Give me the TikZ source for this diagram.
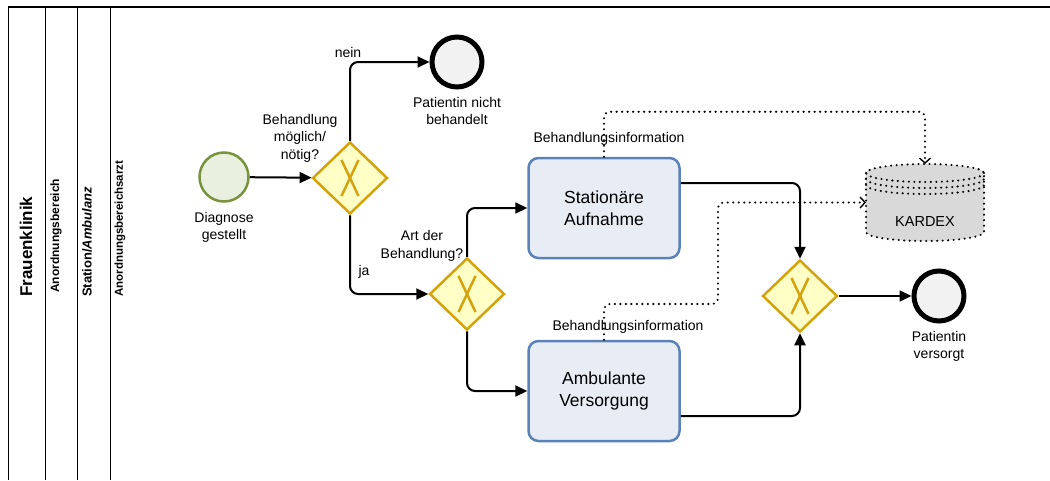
\documentclass[tikz,border=0pt]{standalone}
\usepackage{fontspec}
\setmainfont{Liberation Sans}
\usetikzlibrary{positioning,shapes.geometric,arrows.meta}
\definecolor{evgreen}{HTML}{77933C}
\definecolor{evgreenfill}{HTML}{E9F0DF}
\definecolor{gwgold}{HTML}{D4A20C}
\definecolor{gwfill}{HTML}{FFFFC6}
\definecolor{taskblue}{HTML}{5B82B8}
\definecolor{taskfill}{HTML}{E8EDF5}
\definecolor{endfill}{HTML}{F2F2F2}
\definecolor{storefill}{HTML}{D9D9D9}

\begin{document}
\begin{tikzpicture}[x=1pt,y=-1pt,
		every node/.style={font=\fontsize{14}{17.5}\selectfont},
		startev/.style={circle,draw=evgreen,fill=evgreenfill,line width=2.5pt,minimum size=49pt,inner sep=0pt},
		endev/.style={circle,draw=black,fill=endfill,line width=5pt,minimum size=50pt,inner sep=0pt},
		gateway/.style={diamond,draw=gwgold,fill=gwfill,line width=2.5pt,minimum width=75pt,minimum height=72pt,inner sep=0pt,
			path picture={
				\draw[gwgold,line width=2.5pt] ([shift={(-8.5pt,18pt)}]path picture bounding box.center) -- ([shift={(8.5pt,-18pt)}]path picture bounding box.center);
				\draw[gwgold,line width=2.5pt] ([shift={(8.5pt,18pt)}]path picture bounding box.center) -- ([shift={(-8.5pt,-18pt)}]path picture bounding box.center);}},
		task/.style={rectangle,rounded corners=10pt,draw=taskblue,fill=taskfill,line width=2.5pt,minimum width=151pt,minimum height=100pt,align=center,font=\fontsize{17.5}{22}\selectfont},
		flow/.style={line width=2pt,rounded corners=8pt,-{Triangle[length=12pt,width=11pt]}},
		assoc/.style={line width=2.3pt,line cap=round,dash pattern=on 0pt off 5.5pt,rounded corners=6pt,-{Straight Barb[length=5pt,width=11pt,line width=1.4pt]}},
		storeline/.style={line width=2.3pt,line cap=round,dash pattern=on 0pt off 5.5pt},
		lanelbl/.style={rotate=90,anchor=west,inner sep=0pt}
	]
	\useasboundingbox (0,0) rectangle (1050,480);
	% pool and lanes
	\draw[line width=2pt] (8,7) -- (1050,7);
	\draw[line width=1pt] (8,7) -- (8,480);
	\draw[line width=1pt] (45,7) -- (45,480);
	\draw[line width=1pt] (77,7) -- (77,480);
	\draw[line width=1pt] (110,7) -- (110,480);
	\node[lanelbl,font=\bfseries\fontsize{17}{20}\selectfont] (poolname) at (26,297) {Frauenklinik};
	\node[lanelbl,font=\bfseries\fontsize{12}{14}\selectfont] (lanebereich) at (56,293) {Anordnungsbereich};
	\node[lanelbl,font=\bfseries\fontsize{13}{15}\selectfont] (lanestation) at (87,297) {Station/\textit{Ambulanz}};
	\node[lanelbl,font=\bfseries\fontsize{11.5}{14}\selectfont] (lanearzt) at (120,297) {Anordnungsbereichsarzt};

	% events, gateways, tasks
	\node[startev] (diag) at (224,177) {};
	\node[below=6pt of diag,align=center] (diaglbl) {Diagnose\\gestellt};
	\node[gateway] (gw1) at (350,178) {};
	\node[align=center] (gw1lbl) at (300,138) {Behandlung\\möglich/\\nötig?};
	\node[endev] (endnb) at (457,62) {};
	\node[below=4pt of endnb,align=center] (endnblbl) {Patientin nicht\\behandelt};
	\node[gateway] (gw2) at (467,294) {};
	\node[align=center] (gw2lbl) at (422,246) {Art der\\Behandlung?};
	\node[task] (stat) at (604,208) {Stationäre\\Aufnahme};
	\node[task] (amb) at (604,391) {Ambulante\\Versorgung};
	\node[gateway] (gw3) at (800,296) {};
	\node[endev] (endvs) at (939,296) {};
	\node[below=4pt of endvs,align=center] (endvslbl) {Patientin\\versorgt};

	% data store
	\fill[storefill] (866,173) -- (866,232) arc[start angle=180,end angle=0,x radius=59,y radius=9] -- (984,173) arc[start angle=0,end angle=-180,x radius=59,y radius=9] -- cycle;
	\draw[storeline] (925,173) ellipse[x radius=59,y radius=9];
	\draw[storeline] (866,173) -- (866,232) arc[start angle=180,end angle=0,x radius=59,y radius=9] -- (984,173);
	\draw[storeline] (866,179) arc[start angle=180,end angle=0,x radius=59,y radius=9];
	\draw[storeline] (866,185) arc[start angle=180,end angle=0,x radius=59,y radius=9];
	\node[minimum width=118pt,minimum height=77pt,inner sep=0pt,outer sep=0pt] (kardex) at (925,202.5) {};
	\node[font=\fontsize{14.5}{17}\selectfont] (kardexlbl) at (925,222) {KARDEX};

	% sequence flows
	\draw[flow] (diag) -- (gw1);
	\draw[flow] (gw1.north) |- (endnb);
	\node (neinlbl) at (348,52) {nein};
	\draw[flow] (gw1.south) |- (gw2);
	\node (jalbl) at (364,272) {ja};
	\draw[flow] (gw2.north) |- (stat.west);
	\draw[flow] (gw2.south) |- (amb.west);
	\draw[flow] ([yshift=25pt]stat.east) -| (gw3);
	\draw[flow] ([yshift=-25pt]amb.east) -| (gw3);
	\draw[flow] (gw3) -- (endvs);

	% associations
	\coordinate (assocbend) at (718,304);
	\draw[assoc] (stat.north) -- ++(0,-45) -| (kardex.north);
	\draw[assoc] (amb.north) |- (assocbend) |- (kardex.west);
	\node (infolbl1) at (609,139) {Behandlungsinformation};
	\node (infolbl2) at (628,327) {Behandlungsinformation};
\end{tikzpicture}
\end{document}
